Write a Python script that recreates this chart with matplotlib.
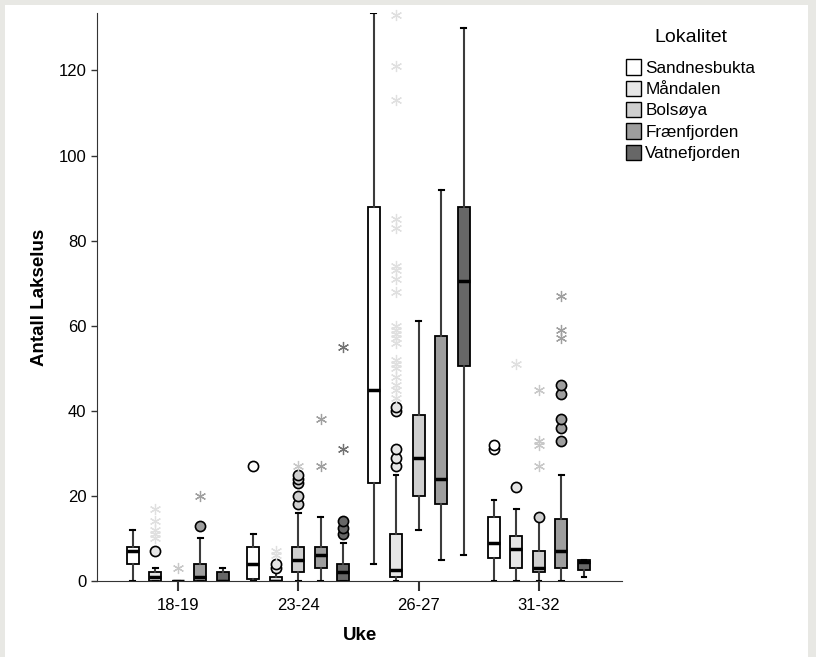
import matplotlib
matplotlib.use("Agg")
import matplotlib.pyplot as plt
from matplotlib.patches import Patch, Rectangle

plt.rcParams['font.family'] = ['Liberation Sans', 'DejaVu Sans']

weeks = ["18-19", "23-24", "26-27", "31-32"]
sites = ["Sandnesbukta", "Måndalen", "Bolsøya", "Frænfjorden", "Vatnefjorden"]
site_colors = ["#ffffff", "#e6e6e6", "#cfcfcf", "#9e9e9e", "#676767"]
star_colors = ["#ffffff", "#e0e0e0", "#c8c8c8", "#a0a0a0", "#737373"]

# box values per week: [whisker low, q1, median, q3, whisker high]
sandnesbukta_box = [[0, 4, 7, 8, 12], [0, 0.5, 4, 8, 11], [4, 23, 45, 88, 133.5], [0, 5.5, 9, 15, 19]]
mandalen_box = [[0, 0, 1, 2, 3], [0, 0, 0, 1, 2], [0, 1, 2.5, 11, 25], [0, 3, 7.5, 10.5, 17]]
bolsoya_box = [[0, 0, 0, 0, 0], [0, 2, 5, 8, 16], [12, 20, 29, 39, 61], [0, 2, 3, 7, 14]]
fraenfjorden_box = [[0, 0, 1, 4, 10], [0, 3, 6, 8, 15], [5, 18, 24, 57.5, 92], [0, 3, 7, 14.5, 25]]
vatnefjorden_box = [[0, 0, 0, 2, 3], [0, 0, 2, 4, 9], [6, 50.5, 70.5, 88, 130], [1, 2.5, 4.5, 5, 5]]

# outliers (circles) and extremes (stars) per week
sandnesbukta_circles = [[], [27], [], [31, 32]]
mandalen_circles = [[7], [3, 4], [27, 29, 31, 40, 41], [22]]
bolsoya_circles = [[], [18, 20, 23, 24, 25], [], [15]]
fraenfjorden_circles = [[13], [], [], [33, 36, 38, 44, 46]]
vatnefjorden_circles = [[], [11, 12.5, 14], [], []]

sandnesbukta_stars = [[], [], [], []]
mandalen_stars = [[10, 11, 12, 14, 17], [6, 7],
                  [43, 45, 46, 48, 50, 51, 52, 56, 57, 58, 59, 60, 68, 71, 73, 74, 83, 85, 113, 121, 133],
                  [51]]
bolsoya_stars = [[3], [27], [], [27, 32, 33, 45]]
fraenfjorden_stars = [[20], [27, 38], [], [57, 59, 67]]
vatnefjorden_stars = [[], [31, 55], [], []]

boxes = [sandnesbukta_box, mandalen_box, bolsoya_box, fraenfjorden_box, vatnefjorden_box]
circles = [sandnesbukta_circles, mandalen_circles, bolsoya_circles, fraenfjorden_circles, vatnefjorden_circles]
stars = [sandnesbukta_stars, mandalen_stars, bolsoya_stars, fraenfjorden_stars, vatnefjorden_stars]

fig = plt.figure(figsize=(8.16, 6.57), dpi=100)
fig.patch.set_facecolor("#e8e8e4")
fig.patches.append(Rectangle((5 / 816, 0), 803 / 816, 1 - 5 / 657, transform=fig.transFigure,
                             facecolor="white", edgecolor="none", zorder=-10))
ax = fig.add_axes([97 / 816, 1 - 581 / 657, 525 / 816, 568 / 657])
ax.set_facecolor("white")

offset = 0.187
width = 0.1
for s, site in enumerate(sites):
    stats = []
    pos = []
    for w in range(len(weeks)):
        lo, q1, med, q3, hi = boxes[s][w]
        stats.append(dict(whislo=lo, q1=q1, med=med, q3=q3, whishi=hi, fliers=[]))
        pos.append(w + (s - 2) * offset)
    ax.bxp(stats, positions=pos, widths=width, capwidths=0.04, patch_artist=True, showfliers=False,
           boxprops=dict(facecolor=site_colors[s], edgecolor="black", linewidth=1.3),
           medianprops=dict(color="black", linewidth=2.5),
           whiskerprops=dict(color="#3c3c3c", linewidth=1.5),
           capprops=dict(color="black", linewidth=1.5), zorder=2)
    for w in range(len(weeks)):
        x = w + (s - 2) * offset
        if circles[s][w]:
            ax.plot([x] * len(circles[s][w]), circles[s][w], "o", ms=7.3, mfc=site_colors[s],
                    mec="black", mew=1.2, zorder=3, clip_on=False)
        if stars[s][w]:
            ax.plot([x] * len(stars[s][w]), stars[s][w], marker=(6, 2, 0), ls="none", ms=8,
                    mec=star_colors[s], mew=0.9, zorder=3, clip_on=False)

ax.set_xlim(-0.672, 3.69)
ax.set_ylim(0, 133.5)
ax.set_xticks(range(len(weeks)))
ax.set_xticklabels(weeks, fontsize=12)
ax.set_yticks([0, 20, 40, 60, 80, 100, 120])
ax.tick_params(axis="y", labelsize=12, length=4, width=1, color="#333333")
ax.tick_params(axis="x", length=7, width=1.5, color="#333333", pad=5)
for sp in ["top", "right"]:
    ax.spines[sp].set_visible(False)
for sp in ["left", "bottom"]:
    ax.spines[sp].set_color("#333333")
ax.set_ylabel("Antall Lakselus", fontsize=13.5, fontweight="bold", labelpad=8)
ax.set_xlabel("Uke", fontsize=13.5, fontweight="bold", labelpad=10)

handles = [Patch(facecolor=c, edgecolor="black", linewidth=1) for c in site_colors]
leg = fig.legend(handles, sites, loc="upper left", bbox_to_anchor=(0.748, 0.98), frameon=False,
                 title="Lokalitet", fontsize=12.3, title_fontsize=14, handlelength=0.9,
                 handleheight=1.0, handletextpad=0.25, labelspacing=0.28)
leg._legend_box.sep = 10

fig.savefig("out.png", dpi=100, facecolor=fig.get_facecolor())
